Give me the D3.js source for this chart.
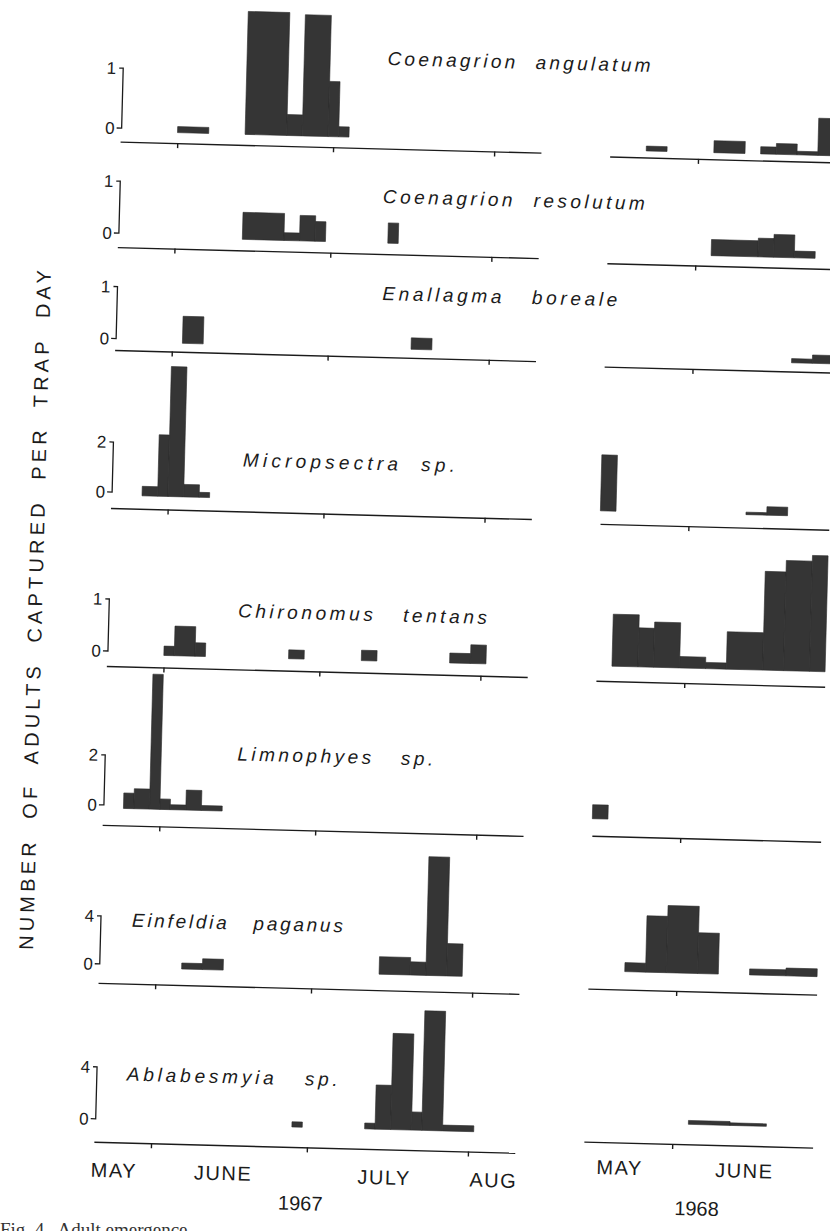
<!DOCTYPE html>
<html>
<head>
<meta charset="utf-8">
<script src="https://cdn.jsdelivr.net/npm/d3@7"></script>
<style>
body { margin: 0; background: #fff; }
svg text { white-space: pre; }
</style>
</head>
<body>
<div id="chart"></div>
<script>
// species, scale brackets and trap collections (start, end, adults per trap day)
var species = ["Coenagrion  angulatum", "Coenagrion  resolutum", "Enallagma   boreale", "Micropsectra  sp.",
  "Chironomus   tentans", "Limnophyes   sp.", "Einfeldia   paganus", "Ablabesmyia   sp."];
var scaleTop = [1, 1, 1, 2, 1, 2, 4, 4];

var angulatum67 = [["06-01","06-07",0.1],["06-14","06-22",2.05],["06-22","06-25",0.35],["06-25","06-30",2.02],["06-30","07-02",0.92],["07-02","07-04",0.17]];
var angulatum68 = [["05-22","05-26",0.08],["06-04","06-10",0.2],["06-13","06-16",0.12],["06-16","06-20",0.18],["06-20","06-24",0.06],["06-24","07-01",0.62]];
var resolutum67 = [["06-14","06-22",0.52],["06-22","06-25",0.15],["06-25","06-28",0.49],["06-28","06-30",0.38],["07-12","07-14",0.39]];
var resolutum68 = [["06-04","06-13",0.31],["06-13","06-16",0.36],["06-16","06-20",0.44],["06-20","06-24",0.13]];
var boreale67 = [["06-03","06-07",0.52],["07-17","07-21",0.22]];
var boreale68 = [["06-20","06-24",0.08],["06-24","06-30",0.16]];
var micropsectra67 = [["05-27","05-30",0.38],["05-30","06-01",2.46],["06-01","06-04",5.2],["06-04","06-07",0.5],["06-07","06-09",0.2]];
var micropsectra68 = [["05-15","05-18",2.24],["06-12","06-16",0.1],["06-16","06-20",0.34]];
var tentans67 = [["06-01","06-03",0.18],["06-03","06-07",0.57],["06-07","06-09",0.26],["06-25","06-28",0.17],["07-09","07-12",0.2],["07-26","07-30",0.19],["07-30","08-02",0.36]];
var tentans68 = [["05-18","05-23",1.0],["05-23","05-26",0.75],["05-26","05-31",0.87],["05-31","06-05",0.22],["06-05","06-09",0.12],["06-09","06-16",0.72],["06-16","06-20",1.9],["06-20","06-25",2.12],["06-25","06-28",2.23]];
var limnophyes67 = [["05-25","05-27",0.62],["05-27","05-30",0.8],["05-30","06-01",5.4],["06-01","06-03",0.42],["06-03","06-06",0.2],["06-06","06-09",0.8],["06-09","06-13",0.2]];
var limnophyes68 = [["05-15","05-18",0.56]];
var einfeldia67 = [["06-06","06-10",0.5],["06-10","06-14",0.9],["07-14","07-20",1.46],["07-20","07-23",1.1],["07-23","07-27",9.9],["07-27","07-30",2.7]];
var einfeldia68 = [["05-22","05-26",0.75],["05-26","05-30",4.7],["05-30","06-05",5.6],["06-05","06-09",3.4],["06-15","06-22",0.5],["06-22","06-28",0.65]];
var ablabesmyia67 = [["06-28","06-30",0.4],["07-12","07-14",0.45],["07-14","07-17",3.4],["07-17","07-21",7.4],["07-21","07-23",1.4],["07-23","07-27",9.2],["07-27","08-02",0.45]];
var ablabesmyia68 = [["06-04","06-12",0.3],["06-12","06-19",0.2]];

var series67 = [angulatum67, resolutum67, boreale67, micropsectra67, tentans67, limnophyes67, einfeldia67, ablabesmyia67];
var series68 = [angulatum68, resolutum68, boreale68, micropsectra68, tentans68, limnophyes68, einfeldia68, ablabesmyia68];

var monthTicks67 = ["06-01", "07-01", "08-01"];
var monthTicks68 = ["06-01"];
var monthNames67 = ["MAY", "JUNE", "JULY", "AUG"];
var monthAt67 = ["05-25", "06-15", "07-16", "08-06"];
var monthNames68 = ["MAY", "JUNE"];
var monthAt68 = ["05-22", "06-15"];

// layout (page pixels, before the slight tilt of the scan)
var zero67 = [139, 244, 349.5, 503, 662, 816, 975, 1130];
var axis67 = [149.5, 255, 358, 516, 674, 833, 991, 1150];
var zero68 = [145, 248, 353, 506, 661, 814, 966, 1117];
var axis68 = [151.6, 258.3, 361.7, 519, 676, 831, 984, 1137];
var bracketPx = [60, 52, 52, 50, 52, 50, 48, 52];
var nameX = [373, 372, 374, 239, 238, 241, 140, 139];
var nameY = [66, 204, 301, 471, 622, 765, 934, 1088];
var nameLen = [263, 262, 235, 212, 249, 196, 211, 211];

var width = 830, height = 1231;
var ink = "#1b1b1b";

var svg = d3.select("#chart").append("svg")
  .attr("width", width)
  .attr("height", height);

var chart = svg.append("g")
  .attr("transform", "rotate(1.5,415,615)");

var day67 = function(s) { return d3.timeParse("%Y-%m-%d")("1967-" + s); };
var day68 = function(s) { return d3.timeParse("%Y-%m-%d")("1968-" + s); };

var x67 = d3.scaleTime()
  .domain([day67("05-21"), day67("08-10")])
  .range([107.8, 528.8]);
var x68 = d3.scaleTime()
  .domain([day68("05-15"), day68("06-28")])
  .range([597.6, 826.4]);

function drawPart(g, x, parse, bars, zeroY, axisY, unit, ticks) {
  var y = d3.scaleLinear().domain([0, 1]).range([zeroY, zeroY - unit]);

  g.selectAll(".bar")
    .data(bars)
    .enter().append("rect")
    .attr("class", "bar")
    .attr("x", function(d) { return x(parse(d[0])); })
    .attr("width", function(d) { return x(parse(d[1])) - x(parse(d[0])); })
    .attr("y", function(d) { return y(d[2]); })
    .attr("height", function(d) { return y(0) - y(d[2]); })
    .style("fill", "#353535")
    .style("stroke", "#2a2a2a")
    .style("stroke-width", 0.6);

  var ax = g.append("g")
    .attr("transform", "translate(0," + axisY + ")")
    .call(d3.axisBottom(x)
      .tickValues(ticks.map(parse))
      .tickSize(5)
      .tickSizeOuter(0)
      .tickFormat(""));
  ax.select(".domain").style("stroke", ink).style("stroke-width", 1.4);
  ax.selectAll(".tick line").style("stroke", ink).style("stroke-width", 1.4);
}

species.forEach(function(name, i) {
  var g = chart.append("g").attr("class", "panel");
  var unit = bracketPx[i] / scaleTop[i];

  drawPart(g.append("g"), x67, day67, series67[i], zero67[i], axis67[i], unit, monthTicks67);
  drawPart(g.append("g"), x68, day68, series68[i], zero68[i], axis68[i], unit, monthTicks68);

  // scale bracket
  var bx = 109, yb = zero67[i] - 3, yt = yb - bracketPx[i];
  g.append("path")
    .attr("d", "M" + (bx - 4) + "," + yt + "H" + bx + "V" + yb + "H" + (bx - 5))
    .style("fill", "none")
    .style("stroke", ink)
    .style("stroke-width", 1.3);
  g.append("text")
    .attr("x", bx - 7).attr("y", yt + 6)
    .attr("text-anchor", "end")
    .style("font", "17px 'Liberation Sans', Arial, sans-serif")
    .style("fill", ink)
    .text(scaleTop[i]);
  g.append("text")
    .attr("x", bx - 7).attr("y", yb + 6)
    .attr("text-anchor", "end")
    .style("font", "17px 'Liberation Sans', Arial, sans-serif")
    .style("fill", ink)
    .text("0");

  g.append("text")
    .attr("x", nameX[i]).attr("y", nameY[i])
    .attr("textLength", nameLen[i])
    .attr("lengthAdjust", "spacing")
    .style("font", "italic 19px 'Liberation Sans', Arial, sans-serif")
    .style("fill", ink)
    .text(name);
});

// month names and years
var monthFont = "20px 'Liberation Sans', Arial, sans-serif";
chart.append("g").selectAll("text")
  .data(monthNames67)
  .enter().append("text")
  .attr("x", function(d, i) { return x67(day67(monthAt67[i])); })
  .attr("y", axis67[7] + 35)
  .attr("text-anchor", "middle")
  .style("font", monthFont)
  .style("letter-spacing", "1.5px")
  .style("fill", ink)
  .text(function(d) { return d; });
chart.append("g").selectAll("text")
  .data(monthNames68)
  .enter().append("text")
  .attr("x", function(d, i) { return x68(day68(monthAt68[i])); })
  .attr("y", axis68[7] + 32)
  .attr("text-anchor", "middle")
  .style("font", monthFont)
  .style("letter-spacing", "1.5px")
  .style("fill", ink)
  .text(function(d) { return d; });
chart.append("text")
  .attr("x", x67(day67("06-30"))).attr("y", axis67[7] + 63)
  .attr("text-anchor", "middle")
  .style("font", monthFont)
  .style("fill", ink)
  .text("1967");
chart.append("text")
  .attr("x", x68(day68("06-06"))).attr("y", axis68[7] + 71)
  .attr("text-anchor", "middle")
  .style("font", monthFont)
  .style("fill", ink)
  .text("1968");

// y title
chart.append("text")
  .attr("transform", "translate(42,620) rotate(-90)")
  .attr("text-anchor", "middle")
  .attr("textLength", 680)
  .attr("lengthAdjust", "spacing")
  .style("font", "20px 'Liberation Sans', Arial, sans-serif")
  .style("fill", ink)
  .text("NUMBER  OF  ADULTS  CAPTURED  PER  TRAP  DAY");

// caption, cut off by the page edge as in the scan
svg.append("text")
  .attr("x", 0).attr("y", 1236)
  .style("font", "19px 'Liberation Serif', 'Times New Roman', serif")
  .style("fill", "#333")
  .text("Fig. 4.  Adult emergence");
</script>
</body>
</html>
